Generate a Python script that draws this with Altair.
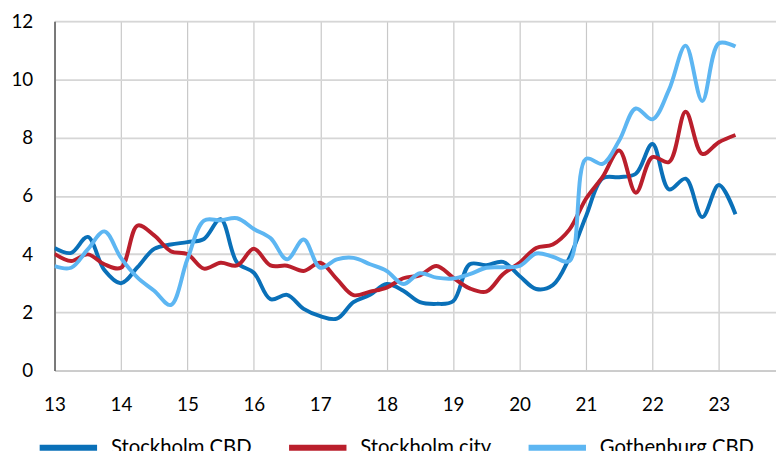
import altair as alt
import pandas as pd

series_names = ["Stockholm CBD", "Stockholm city", "Gothenburg CBD"]
colors = ["#0A70B8", "#BA1F2C", "#5DB6F2"]

start_year = 13
quarters_per_year = 4

stockholm_cbd = [4.21, 4.04, 4.59, 3.45, 3.0, 3.55, 4.18, 4.33, 4.41, 4.52,
                 5.2, 3.7, 3.36, 2.45, 2.6, 2.12, 1.87, 1.78, 2.35, 2.6,
                 2.97, 2.74, 2.35, 2.29, 2.38, 3.65, 3.62, 3.73, 3.25, 2.8,
                 2.93, 3.87, 5.3, 6.6, 6.64, 6.76, 7.78, 6.22, 6.59, 5.27,
                 6.37, 5.37]
stockholm_city = [4.01, 3.76, 3.99, 3.65, 3.53, 4.98, 4.64, 4.1, 4.0, 3.5,
                  3.7, 3.61, 4.18, 3.61, 3.6, 3.42, 3.7, 3.14, 2.59, 2.71,
                  2.85, 3.17, 3.27, 3.59, 3.19, 2.82, 2.71, 3.31, 3.7, 4.21,
                  4.33, 4.84, 5.9, 6.65, 7.56, 6.11, 7.33, 7.16, 8.89, 7.44,
                  7.84, 8.09]
gothenburg_cbd = [3.59, 3.53, 4.16, 4.78, 3.87, 3.19, 2.74, 2.25, 3.82, 5.15,
                  5.16, 5.23, 4.86, 4.55, 3.82, 4.5, 3.53, 3.82, 3.87, 3.65,
                  3.42, 2.97, 3.34, 3.19, 3.16, 3.31, 3.53, 3.55, 3.59, 4.02,
                  3.91, 3.76, 7.27, 7.1, 7.9, 9.0, 8.63, 9.65, 11.16, 9.26,
                  11.24, 11.13]

x_ticks = list(range(13, 24))
y_ticks = [0, 2, 4, 6, 8, 10, 12]

rows = []
for name, vals in zip(series_names, [stockholm_cbd, stockholm_city, gothenburg_cbd]):
    for i, v in enumerate(vals):
        rows.append({"t": start_year + i / quarters_per_year, "value": v, "series": name})
df = pd.DataFrame(rows)

FONT = "Lato"

chart = alt.Chart(df).mark_line(
    interpolate="catmull-rom", strokeWidth=4, clip=True
).encode(
    x=alt.X("t:Q",
            scale=alt.Scale(domain=[13, 23.86], nice=False, zero=False),
            axis=alt.Axis(values=x_ticks, title=None, grid=True, gridColor="#C8C8C8",
                          gridWidth=1.2, domain=True, domainColor="#C8C8C8", domainWidth=1.5,
                          ticks=False, labelPadding=25, labelFontSize=19, labelFont=FONT,
                          labelFlush=False, labelOverlap=False,
                          labelColor="#000000", format="d")),
    y=alt.Y("value:Q",
            scale=alt.Scale(domain=[0, 12], nice=False),
            axis=alt.Axis(values=y_ticks, title=None, grid=True, gridColor="#D6D6D6",
                          gridWidth=1.8, domain=True, domainColor="#595959", domainWidth=1.5,
                          ticks=False, labelPadding=22, labelFontSize=19, labelFont=FONT,
                          labelFlush=False, labelOverlap=False,
                          labelColor="#000000")),
    color=alt.Color("series:N",
                    scale=alt.Scale(domain=series_names, range=colors),
                    legend=alt.Legend(title=None, orient="none", direction="horizontal",
                                      legendX=-18, legendY=399, padding=0,
                                      symbolType="stroke", symbolSize=3364,
                                      symbolStrokeWidth=6, labelFontSize=20.5,
                                      labelFont=FONT, labelColor="#000000",
                                      labelOffset=11, columnPadding=25,
                                      labelLimit=300)),
    order=alt.Order("t:Q"),
).properties(
    width=729,
    height=353,
    autosize=alt.AutoSizeParams(type="none"),
    padding={"left": 47, "top": 11, "right": 0, "bottom": 79},
).configure_view(stroke=None).configure(background="white")

chart.save("out.html", embed_options={"renderer": "svg", "actions": False})
